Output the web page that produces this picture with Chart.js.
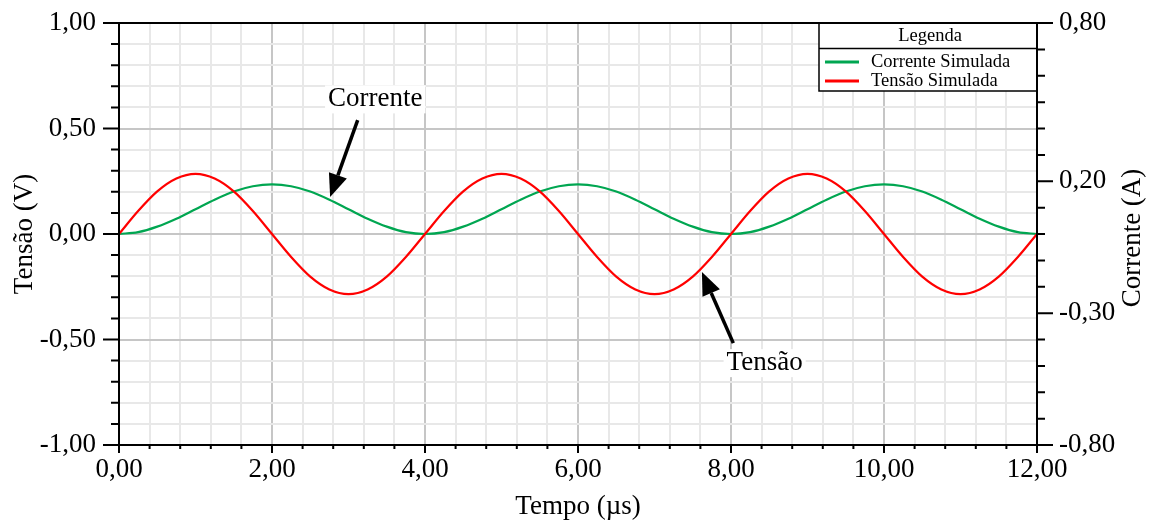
<!DOCTYPE html>
<html>
<head>
<meta charset="utf-8">
<script src="https://cdn.jsdelivr.net/npm/chart.js@4.4.0/dist/chart.umd.min.js"></script>
<style>
  html, body { margin: 0; padding: 0; background: #fff; }
  #wrap { width: 1149px; height: 522px; }
</style>
</head>
<body>
<div id="wrap"><canvas id="c"></canvas></div>
<script>
// tempo em microssegundos
const tempo = [
  0, 0.25, 0.5, 0.75, 1, 1.25, 1.5, 1.75, 2, 2.25, 2.5, 2.75, 3, 3.25, 3.5, 3.75,
  4, 4.25, 4.5, 4.75, 5, 5.25, 5.5, 5.75, 6, 6.25, 6.5, 6.75, 7, 7.25, 7.5, 7.75,
  8, 8.25, 8.5, 8.75, 9, 9.25, 9.5, 9.75, 10, 10.25, 10.5, 10.75, 11, 11.25, 11.5, 11.75, 12
];
// tensao simulada (V)
const tensao = [
  0, 0.109, 0.202, 0.263, 0.285, 0.263, 0.202, 0.109, 0, -0.109, -0.202, -0.263, -0.285, -0.263, -0.202, -0.109,
  0, 0.109, 0.202, 0.263, 0.285, 0.263, 0.202, 0.109, 0, -0.109, -0.202, -0.263, -0.285, -0.263, -0.202, -0.109,
  0, 0.109, 0.202, 0.263, 0.285, 0.263, 0.202, 0.109, 0, -0.109, -0.202, -0.263, -0.285, -0.263, -0.202, -0.109,
  0
];
// corrente simulada (A)
const corrente = [
  0, 0.007, 0.028, 0.058, 0.094, 0.130, 0.161, 0.181, 0.188, 0.181, 0.161, 0.130, 0.094, 0.058, 0.028, 0.007,
  0, 0.007, 0.028, 0.058, 0.094, 0.130, 0.161, 0.181, 0.188, 0.181, 0.161, 0.130, 0.094, 0.058, 0.028, 0.007,
  0, 0.007, 0.028, 0.058, 0.094, 0.130, 0.161, 0.181, 0.188, 0.181, 0.161, 0.130, 0.094, 0.058, 0.028, 0.007,
  0
];
const seriesNames = ['Corrente Simulada', 'Tensão Simulada'];
const seriesColors = ['#00a651', '#ff0000'];

// anotacoes (em unidades de dados: tempo, tensao)
const notes = [
  { text: 'Corrente', at: [3.35, 0.638], from: [3.12, 0.54], to: [2.76, 0.175] },
  { text: 'Tensão', at: [8.44, -0.612], from: [8.03, -0.517], to: [7.62, -0.18] }
];

const FONT = "'Liberation Serif', 'Times New Roman', serif";

function fmt(v) {
  if (Math.abs(v) < 1e-9) v = 0;
  return v.toFixed(2).replace('.', ',');
}
const isMult = (v, s) => Math.abs(v / s - Math.round(v / s)) < 1e-6;
const xMajor = v => isMult(v, 2);
const yMajor = v => isMult(v, 0.5);
const rMajor = v => (isMult(v + 0.8, 0.5) && v < 0.5) || Math.abs(v - 0.8) < 1e-6;

// fixed axis sizes, without the extra padding the labels would add
function fixY(w) {
  return s => { s.width = w; s.paddingTop = 0; s.paddingBottom = 0; };
}

const overlay = {
  id: 'overlay',
  afterDatasetsDraw(chart) {
    const { ctx, chartArea: a, scales } = chart;
    const sx = scales.x, sy = scales.yV, sr = scales.yI;
    ctx.save();

    // annotations
    notes.forEach(n => {
      ctx.font = '27px ' + FONT;
      const tx = sx.getPixelForValue(n.at[0]), ty = sy.getPixelForValue(n.at[1]);
      const w = ctx.measureText(n.text).width;
      ctx.fillStyle = '#fff';
      ctx.fillRect(tx - w / 2 - 3, ty - 14, w + 6, 28);
      ctx.fillStyle = '#000';
      ctx.textAlign = 'center';
      ctx.textBaseline = 'middle';
      ctx.fillText(n.text, tx, ty);

      const x0 = sx.getPixelForValue(n.from[0]), y0 = sy.getPixelForValue(n.from[1]);
      const x1 = sx.getPixelForValue(n.to[0]), y1 = sy.getPixelForValue(n.to[1]);
      const ang = Math.atan2(y1 - y0, x1 - x0);
      const hl = 23, hw = 9.5;
      const bx = x1 - hl * Math.cos(ang), by = y1 - hl * Math.sin(ang);
      ctx.strokeStyle = '#000';
      ctx.lineWidth = 3.5;
      ctx.beginPath();
      ctx.moveTo(x0, y0);
      ctx.lineTo(bx, by);
      ctx.stroke();
      ctx.beginPath();
      ctx.moveTo(x1, y1);
      ctx.lineTo(bx + hw * Math.sin(ang), by - hw * Math.cos(ang));
      ctx.lineTo(bx - hw * Math.sin(ang), by + hw * Math.cos(ang));
      ctx.closePath();
      ctx.fillStyle = '#000';
      ctx.fill();
    });

    // legend box
    const L = a.right - 218, T = a.top, W = 218, H = 68;
    ctx.fillStyle = '#fff';
    ctx.fillRect(L, T, W, H);
    ctx.strokeStyle = '#000';
    ctx.lineWidth = 1.5;
    ctx.strokeRect(L, T, W, H);
    ctx.beginPath();
    ctx.moveTo(L, T + 25.5);
    ctx.lineTo(L + W, T + 25.5);
    ctx.stroke();
    ctx.font = '18.5px ' + FONT;
    ctx.fillStyle = '#000';
    ctx.textAlign = 'center';
    ctx.textBaseline = 'middle';
    ctx.fillText('Legenda', L + W / 2 + 2, T + 13);
    seriesNames.forEach((name, i) => {
      const yy = T + 39 + i * 19;
      ctx.strokeStyle = seriesColors[i];
      ctx.lineWidth = 3;
      ctx.beginPath();
      ctx.moveTo(L + 6, yy);
      ctx.lineTo(L + 40, yy);
      ctx.stroke();
      ctx.fillStyle = '#000';
      ctx.textAlign = 'left';
      ctx.fillText(name, L + 52, yy);
    });

    // frame
    ctx.strokeStyle = '#000';
    ctx.lineWidth = 2;
    ctx.strokeRect(a.left, a.top, a.width, a.height);

    // tick marks
    ctx.beginPath();
    sx.ticks.forEach(t => {
      const p = sx.getPixelForValue(t.value);
      ctx.moveTo(p, a.bottom);
      ctx.lineTo(p, a.bottom + (xMajor(t.value) ? 8 : 4));
    });
    sy.ticks.forEach(t => {
      const p = sy.getPixelForValue(t.value);
      ctx.moveTo(a.left, p);
      ctx.lineTo(a.left - (yMajor(t.value) ? 16 : 8), p);
    });
    sr.ticks.forEach(t => {
      const p = sr.getPixelForValue(t.value);
      ctx.moveTo(a.right, p);
      ctx.lineTo(a.right + (rMajor(t.value) ? 16 : 8), p);
    });
    ctx.stroke();
    ctx.restore();
  },
  afterDraw(chart) {
    const { ctx, chartArea: a } = chart;
    const cy = (a.top + a.bottom) / 2;
    ctx.save();
    ctx.fillStyle = '#000';
    ctx.font = '27px ' + FONT;
    ctx.textAlign = 'center';
    ctx.textBaseline = 'middle';
    ctx.fillText('Tempo (µs)', (a.left + a.right) / 2, 507);

    ctx.translate(25, cy);
    ctx.rotate(-Math.PI / 2);
    ctx.fillText('Tensão (V)', 0, 0);
    ctx.restore();

    ctx.save();
    ctx.fillStyle = '#000';
    ctx.font = '27px ' + FONT;
    ctx.textAlign = 'center';
    ctx.textBaseline = 'middle';
    ctx.translate(1133, cy + 4);
    ctx.rotate(-Math.PI / 2);
    ctx.fillText('Corrente (A)', 0, 0);
    ctx.restore();
  }
};

const gridCol = (major) => major ? '#c6c6c6' : '#e8e8e8';

new Chart(document.getElementById('c'), {
  type: 'line',
  data: {
    datasets: [
      {
        label: seriesNames[0],
        data: tempo.map((t, i) => ({ x: t, y: corrente[i] })),
        borderColor: seriesColors[0],
        borderWidth: 2.2,
        pointRadius: 0,
        cubicInterpolationMode: 'monotone',
        yAxisID: 'yI',
        order: 2
      },
      {
        label: seriesNames[1],
        data: tempo.map((t, i) => ({ x: t, y: tensao[i] })),
        borderColor: seriesColors[1],
        borderWidth: 2.2,
        pointRadius: 0,
        cubicInterpolationMode: 'monotone',
        yAxisID: 'yV',
        order: 1
      }
    ]
  },
  options: {
    responsive: true,
    maintainAspectRatio: false,
    animation: false,
    layout: { padding: { top: 23, left: 0, right: 0, bottom: 0 } },
    plugins: { legend: { display: false }, tooltip: { enabled: false } },
    scales: {
      x: {
        type: 'linear',
        min: 0, max: 12,
        afterFit: s => { s.height = 77; },
        border: { display: false },
        grid: {
          drawTicks: false,
          lineWidth: 2,
          color: c => gridCol(xMajor(c.tick.value))
        },
        ticks: {
          stepSize: 0.4,
          autoSkip: false,
          maxRotation: 0,
          padding: 9,
          color: '#000',
          font: { family: FONT, size: 27 },
          callback: v => xMajor(v) ? fmt(v) : ''
        }
      },
      yV: {
        position: 'left',
        min: -1, max: 1,
        afterFit: fixY(119),
        border: { display: false },
        grid: {
          drawTicks: false,
          lineWidth: 2,
          color: c => gridCol(yMajor(c.tick.value))
        },
        ticks: {
          stepSize: 0.1,
          autoSkip: false,
          padding: 23,
          color: '#000',
          font: { family: FONT, size: 27 },
          callback: v => yMajor(v) ? fmt(v) : ''
        }
      },
      yI: {
        position: 'right',
        min: -0.8, max: 0.8,
        afterFit: fixY(112),
        border: { display: false },
        grid: { display: false, drawTicks: false },
        ticks: {
          stepSize: 0.1,
          autoSkip: false,
          padding: 22,
          color: '#000',
          font: { family: FONT, size: 27 },
          callback: v => rMajor(v) ? fmt(v) : ''
        }
      }
    }
  },
  plugins: [overlay]
});
</script>
</body>
</html>
